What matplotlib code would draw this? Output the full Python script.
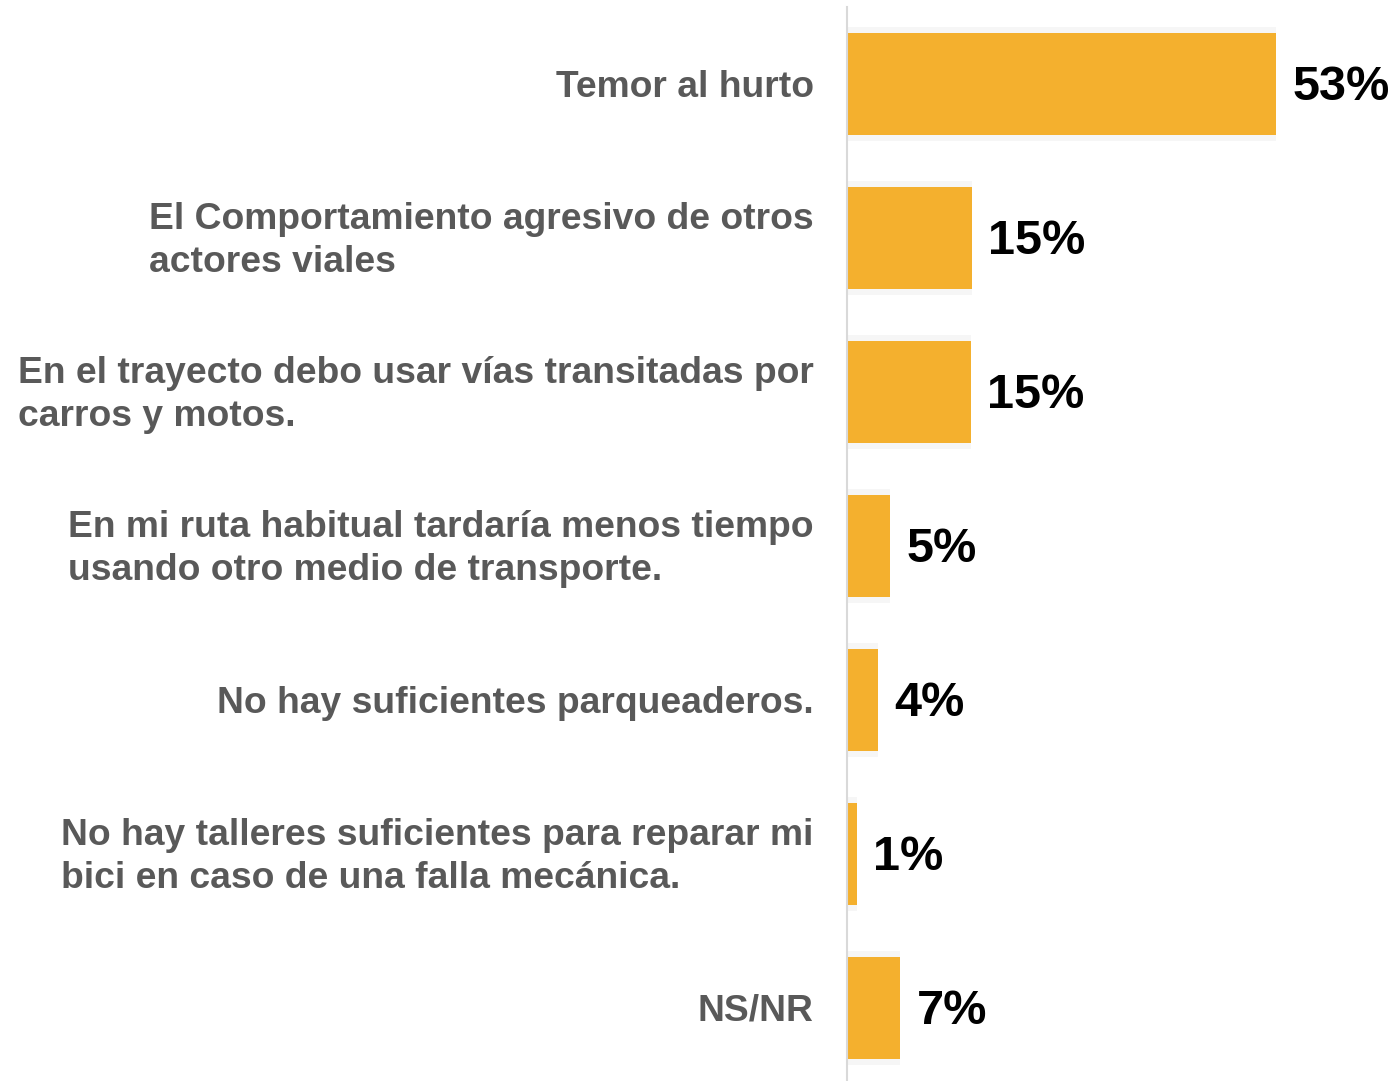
import matplotlib
matplotlib.use("Agg")
import matplotlib.pyplot as plt

categories = [
    "Temor al hurto",
    "El Comportamiento agresivo de otros\nactores viales",
    "En el trayecto debo usar vías transitadas por\ncarros y motos.",
    "En mi ruta habitual tardaría menos tiempo\nusando otro medio de transporte.",
    "No hay suficientes parqueaderos.",
    "No hay talleres suficientes para reparar mi\nbici en caso de una falla mecánica.",
    "NS/NR",
]
values = [53.0, 15.4, 15.3, 5.3, 3.8, 1.2, 6.6]

plt.rcParams['font.family'] = ['Liberation Sans', 'DejaVu Sans']

fig = plt.figure(figsize=(13.93, 10.81), dpi=100)
ax = fig.add_axes([847/1393, -4/1081, 1 - 847/1393, 1078/1081])

y = list(range(len(categories)))
# faint shadow
ax.barh(y, values, height=0.74, color='#f6f6f6', left=0, zorder=1)
ax.barh(y, values, height=0.66, color='#F4B02E', zorder=2)

ax.set_ylim(len(categories) - 0.5, -0.5)
ax.set_xlim(0, 67.5)

for yi, v in zip(y, values):
    ax.annotate(f"{v:.0f}%", xy=(v, yi), xytext=(12, -2.5), textcoords='offset points',
                va='center', ha='left', fontsize=35, fontweight='bold', color='black')

ax.set_yticks(y)
ax.set_yticklabels([])
for yi, lab in zip(y, categories):
    ax.annotate(lab, xy=(0, yi), xycoords=('axes fraction', 'data'), xytext=(-24, -2.2),
                textcoords='offset points', ha='right', va='center', multialignment='left',
                fontsize=26.8, fontweight='bold', color='#595959', linespacing=1.27)

ax.set_xticks([])
ax.tick_params(left=False)
for s in ['top', 'right', 'bottom']:
    ax.spines[s].set_visible(False)
ax.spines['left'].set_color('#d9d9d9')
ax.spines['left'].set_linewidth(1.5)

fig.savefig("out.png", dpi=100)
